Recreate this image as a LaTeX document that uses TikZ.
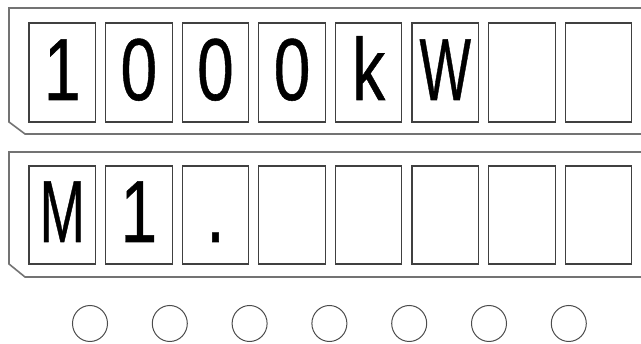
\documentclass[tikz,border=0pt]{standalone}
\usepackage{fontspec}
\setmainfont{Liberation Sans}
\newfontfamily\dispfont[FakeBold=0.6]{Liberation Sans}
\begin{document}
\begin{tikzpicture}[x=1pt,y=-1pt,
  frame/.style={draw=black!55,line width=1.6pt},
  cell/.style={draw=black!75,line width=1.1pt},
  glyph/.style={anchor=base,inner sep=0pt,font=\dispfont\fontsize{88}{88}\selectfont},
  lamp/.style={draw=black!70,line width=1pt}]
\useasboundingbox (0,0) rectangle (641,344);
% panels
\draw[frame] (645,8) -- (9,8) -- (9,122) -- (25,134) -- (645,134);
\draw[frame] (645,152) -- (9,152) -- (9,264) -- (25,277) -- (645,277);
% cells
\foreach \i in {0,...,7}{
  \pgfmathsetmacro{\xl}{29+76.6*\i}
  \draw[cell] (\xl,23) rectangle ++(66.5,99);
  \draw[cell] (\xl,166) rectangle ++(66.5,98);
  \coordinate (t\i) at ({\xl+33.25},100);
  \coordinate (b\i) at ({\xl+33.25},242);
}
\node[glyph] (c1) at (t0) {\scalebox{0.75}[1]{1}};
\node[glyph] (c2) at (t1) {\scalebox{0.75}[1]{0}};
\node[glyph] (c3) at (t2) {\scalebox{0.75}[1]{0}};
\node[glyph] (c4) at (t3) {\scalebox{0.75}[1]{0}};
\node[glyph] (c5) at (t4) {\scalebox{0.75}[1]{k}};
\node[glyph] (c6) at (t5) {\scalebox{0.62}[1]{W}};
\node[glyph] (d1) at (b0) {\scalebox{0.62}[1]{M}};
\node[glyph] (d2) at (b1) {\scalebox{0.75}[1]{1}};
\node[glyph] (d3) at (b2) {\scalebox{0.75}[1]{.}};
% lamps
\foreach \j in {0,...,6}{
  \draw[lamp] ({90+79.8*\j},323.5) ellipse (17.5 and 18);
}
\end{tikzpicture}
\end{document}
